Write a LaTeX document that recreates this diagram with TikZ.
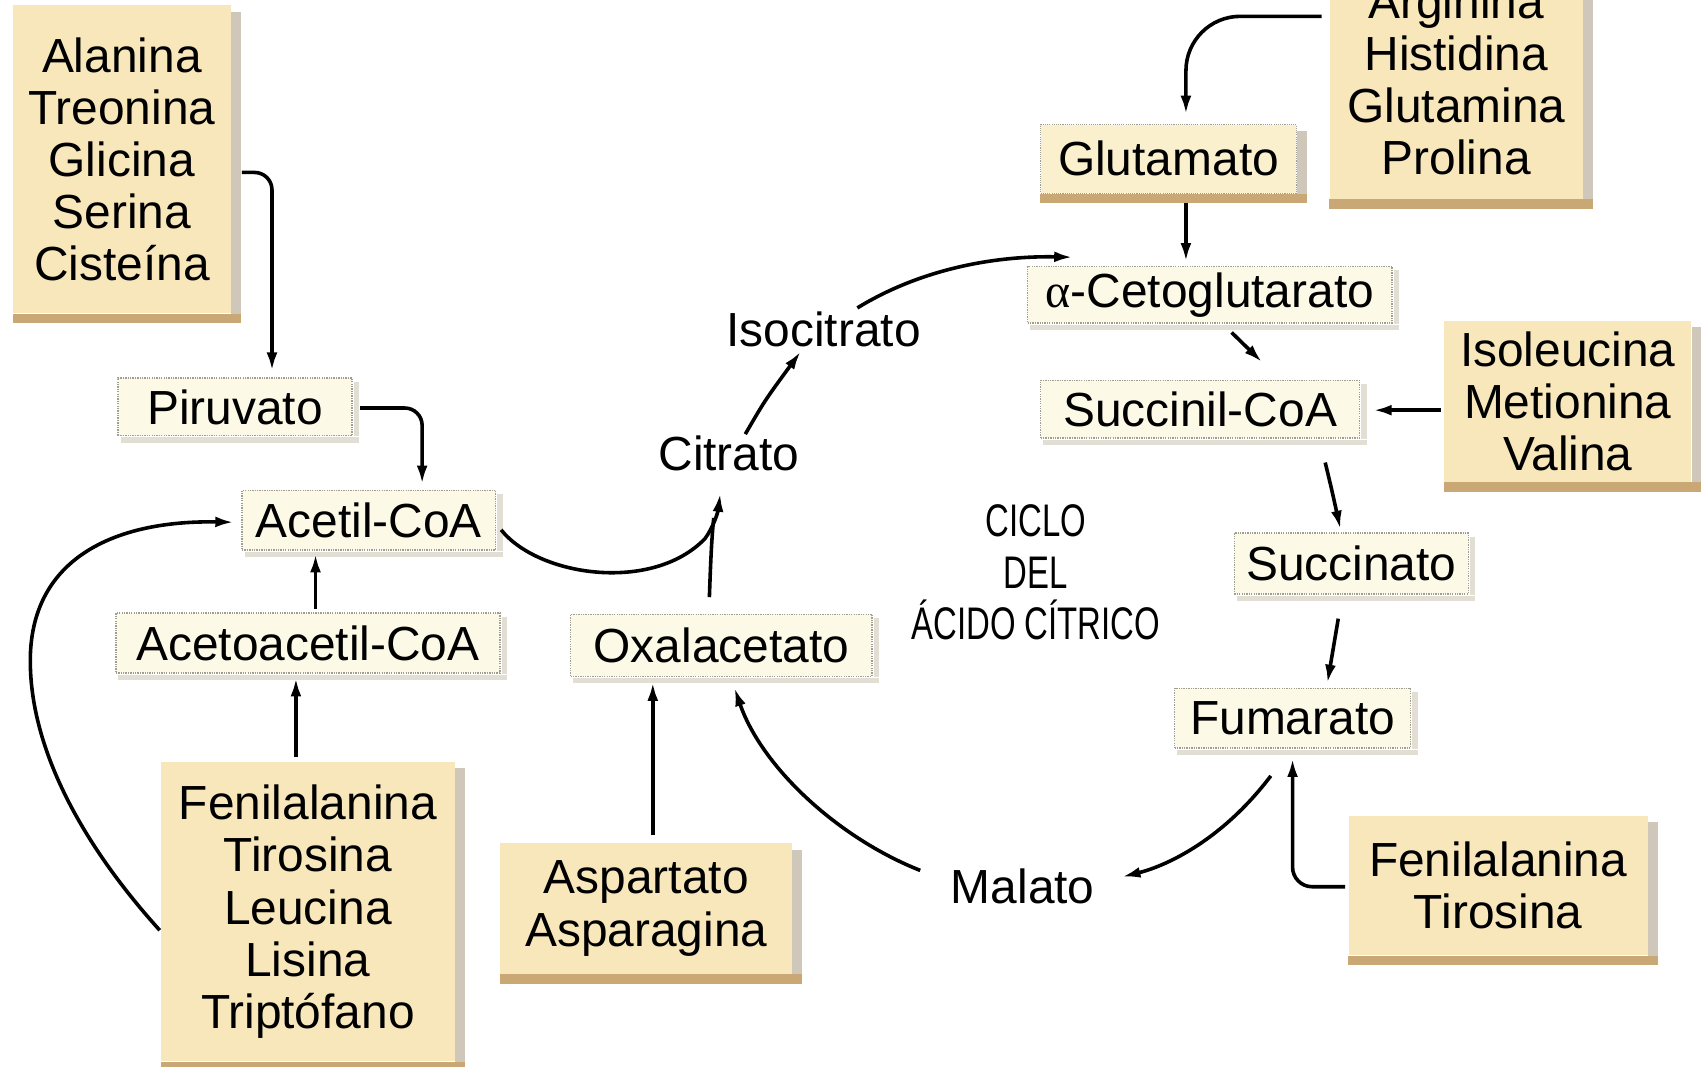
\documentclass[tikz,border=0pt]{standalone}
\usepackage{fontspec}
\setmainfont{Liberation Sans}
\newfontfamily\condfont[FakeStretch=0.72]{Liberation Sans}
\newfontfamily\alphafont{Liberation Serif}
\usetikzlibrary{arrows.meta,calc}
\definecolor{tanfill}{HTML}{F7E7BB}
\definecolor{glufill}{HTML}{FAF0CE}
\definecolor{creamfill}{HTML}{FCF9E6}
\definecolor{bandcol}{HTML}{C9A876}
\definecolor{rshade}{HTML}{CFC8BA}
\definecolor{lshade}{HTML}{E2DED4}
\definecolor{edgecol}{HTML}{A09E90}
\newcommand\bandshade[1]{%
  \fill[bandcol] (#1.south west) rectangle ([shift={(9,9)}]#1.south east);
  \fill[rshade] ([shift={(0,6)}]#1.north east) rectangle ([shift={(9,0)}]#1.south east);}
\newcommand\lightshade[1]{%
  \fill[lshade] ([shift={(3,1)}]#1.south west) rectangle ([shift={(6,6)}]#1.south east);
  \fill[lshade] ([shift={(1,4)}]#1.north east) rectangle ([shift={(6,0)}]#1.south east);}
\begin{document}
\begin{tikzpicture}[x=1pt,y=-1pt,
  txt/.style={font=\fontsize{44}{48}\selectfont, align=center, inner sep=0pt},
  bigbox/.style={txt, fill=tanfill},
  glubox/.style={txt, fill=glufill, draw=edgecol, densely dotted, line width=1pt},
  smallbox/.style={txt, fill=creamfill, draw=edgecol, densely dotted, line width=1.2pt},
  arr/.style={line width=3.3pt, -{Latex[length=17pt,width=10pt]}},
  plain/.style={line width=3.3pt}]
\useasboundingbox (0,0) rectangle (1568,980);
\fill[white] (0,0) rectangle (1568,980);
\clip (0,0) rectangle (1568,980);

% amino acid boxes
\node[bigbox, minimum width=200pt, minimum height=283pt] (ala) at (112,146.5) {Alanina\\Treonina\\Glicina\\Serina\\Cisteína};
\node[bigbox, minimum width=270pt, minimum height=275pt] (fen1) at (283,838) {Fenilalanina\\Tirosina\\Leucina\\Lisina\\Triptófano};
\node[bigbox, minimum width=268pt, minimum height=120pt] (asp) at (594,835) {Aspartato\\Asparagina};
\node[bigbox, minimum width=233pt, minimum height=220pt] (argi) at (1338.5,73) {Arginina\\Histidina\\Glutamina\\Prolina};
\node[bigbox, minimum width=227pt, minimum height=148pt] (isoleu) at (1441,369) {Isoleucina\\Metionina\\Valina};
\node[bigbox, minimum width=275pt, minimum height=128pt] (fen2) at (1377,814) {Fenilalanina\\Tirosina};
\node[glubox, minimum width=235pt, minimum height=63pt] (gluta) at (1074,146) {Glutamato};

% intermediates in boxes
\node[smallbox, minimum width=215pt, minimum height=53pt] (piru) at (216,374) {Piruvato};
\node[smallbox, minimum width=233pt, minimum height=55pt] (acetil) at (339,478) {Acetil-CoA};
\node[smallbox, minimum width=353pt, minimum height=55pt] (acetoac) at (283,591) {Acetoacetil-CoA};
\node[smallbox, minimum width=277pt, minimum height=57pt] (oxal) at (663,593) {Oxalacetato};
\node[smallbox, minimum width=335pt, minimum height=52pt] (alpha) at (1112,271) {{\alphafont α}-Cetoglutarato};
\node[smallbox, minimum width=293pt, minimum height=53pt] (succinil) at (1103,376) {Succinil-CoA};
\node[smallbox, minimum width=215pt, minimum height=56pt] (succinato) at (1242,518) {Succinato};
\node[smallbox, minimum width=217pt, minimum height=55pt] (fumarato) at (1188,660) {Fumarato};

% free labels
\node[txt] (citrato) at (670,417) {Citrato};
\node[txt] (isocit) at (757,303) {Isocitrato};
\node[txt] (malato) at (940,815) {Malato};
\node[txt, font=\condfont\fontsize{42}{47}\selectfont] (ciclo) at (952,526) {CICLO\\DEL\\ÁCIDO CÍTRICO};

% shadows
\bandshade{ala}\bandshade{fen1}\bandshade{asp}\bandshade{argi}\bandshade{isoleu}\bandshade{fen2}\bandshade{gluta}
\lightshade{piru}\lightshade{acetil}\lightshade{acetoac}\lightshade{oxal}\lightshade{alpha}\lightshade{succinil}\lightshade{succinato}\lightshade{fumarato}

% connectors
\draw[arr, rounded corners=16pt] ([shift={(10,12)}]ala.east) -| ([shift={(34,-6)}]piru.north);
\draw[arr, rounded corners=16pt] ([shift={(7,1)}]piru.east) -| ([shift={(49,-5)}]acetil.north);
\coordinate (a3s) at ([shift={(7,-3)}]acetoac.north);
\draw[arr, shorten >=3pt] (a3s) -- (a3s |- acetil.south);
\draw[arr] ([shift={(-11,-5)}]fen1.north) -- ([shift={(-11,4)}]acetoac.south);
\coordinate (lft) at (28,600);
\draw[arr] ([shift={(-1,17)}]fen1.west) .. controls (70,770) and (25,680) .. (lft)
  .. controls (32,510) and (110,478) .. ([shift={(-7,2)}]acetil.west);
\coordinate (ctip) at ([shift={(-8,20)}]citrato.south);
\draw[arr] ([shift={(4.5,9)}]acetil.east) .. controls (495,530) and (600,545) .. (648,495)
  .. controls (656,484) and (660,470) .. (ctip);
\coordinate (join) at (656,476);
\draw[plain] ([shift={(-11,-15)}]oxal.north) .. controls (653,520) and (654,495) .. (join);
\draw[arr] ([shift={(15,-18)}]citrato.center) .. controls (703,368) .. ([shift={(-21,20)}]isocit.center);
\draw[arr] ([shift={(31,-20)}]isocit.center) .. controls (850,245) and (920,235) .. ([shift={(42,-8)}]alpha.north west);
\coordinate (g1) at ([shift={(16,-9)}]gluta.north);
\draw[arr, rounded corners=50pt] ([shift={(-7,-58)}]argi.west) -| (g1);
\draw[arr] ([shift={(16,9)}]gluta.south) -- ([shift={(-22,-4)}]alpha.north);
\draw[arr] ([shift={(20,8)}]alpha.south) -- ([shift={(57,-16)}]succinil.north);
\draw[arr] ([shift={(-3,8)}]isoleu.west) -- ([shift={(12,1)}]succinil.east);
\draw[arr] ([shift={(115,22)}]succinil.south) .. controls (1224,450) .. ([shift={(-10,-3)}]succinato.north);
\draw[arr] ([shift={(-12,22)}]succinato.south) -- ([shift={(32,-4)}]fumarato.north);
\draw[arr] ([shift={(-20,25)}]fumarato.south) .. controls (1125,770) and (1075,795) .. ([shift={(25,-9)}]malato.east);
\draw[arr] ([shift={(-28,-15)}]malato.west) .. controls (770,770) and (700,705) .. ([shift={(12,10)}]oxal.south);
\draw[arr, rounded corners=18pt] ([shift={(-3,1)}]fen2.west) -| ([shift={(0,9)}]fumarato.south);
\draw[arr] ([shift={(6,-7)}]asp.north) -- ([shift={(-63,5)}]oxal.south);
\end{tikzpicture}
\end{document}
